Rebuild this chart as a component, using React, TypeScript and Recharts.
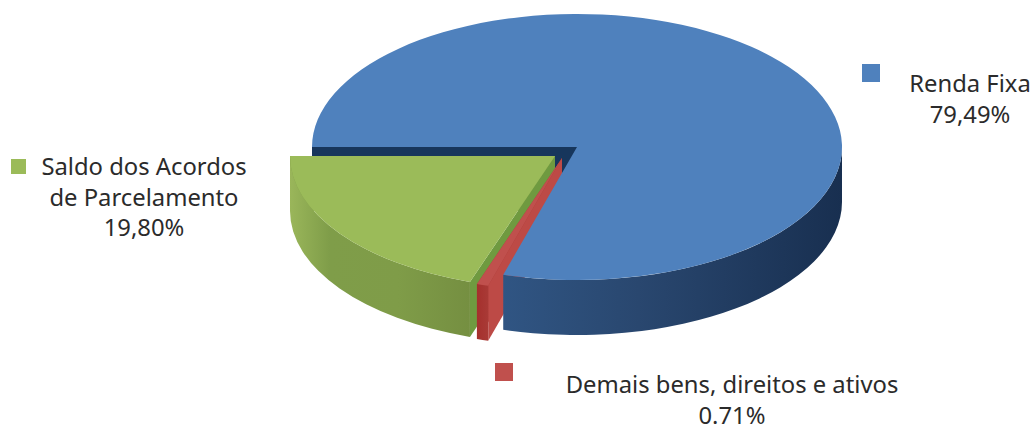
import { PieChart, Pie } from "recharts";

const names = ["Saldo dos Acordos de Parcelamento", "Demais bens, direitos e ativos", "Renda Fixa"];
const shares = [19.8, 0.71, 79.49];
const colors = ["#9BBB59", "#C0504D", "#4F81BD"];
const percentLabels = ["19,80%", "0.71%", "79,49%"];

const labelLines = [
  ["Saldo dos Acordos", "de Parcelamento", "19,80%"],
  ["Demais bens, direitos e ativos", "0.71%"],
  ["Renda Fixa", "79,49%"],
];
// legend box + text block for each slice
const labelBoxes = [
  { sx: 11, sy: 159, ss: 15, tx: 144, ty: 175 },
  { sx: 495, sy: 363, ss: 18, tx: 732, ty: 393 },
  { sx: 862, sy: 64, ss: 18, tx: 970, ty: 92 },
];

const chartData = names.map((name, i) => ({ name, value: shares[i], fill: colors[i], percent: percentLabels[i] }));

const SQUASH = 133 / 265;
const DEPTH = 55;
const explode = [
  { x: -22, y: 9 },
  { x: -15, y: 11 },
  { x: 0, y: 0 },
];
const wallColors = ["#7f9c48", "#a83a36", "#2a4a73"];
const cutColors = ["#6f9a40", "#bd4a46", "#17365c"];

function point(cx: number, cy: number, rx: number, angle: number) {
  const rad = (angle * Math.PI) / 180;
  return { x: cx + rx * Math.cos(rad), y: cy - rx * SQUASH * Math.sin(rad) };
}

function arcPath(cx: number, cy: number, rx: number, a: number, b: number) {
  const p = point(cx, cy, rx, b);
  const large = b - a > 180 ? 1 : 0;
  return `A ${rx} ${rx * SQUASH} 0 ${large} 0 ${p.x} ${p.y}`;
}

function cutWall(cx: number, cy: number, rx: number, angle: number) {
  const p = point(cx, cy, rx, angle);
  return `M ${cx} ${cy} L ${p.x} ${p.y} L ${p.x} ${p.y + DEPTH} L ${cx} ${cy + DEPTH} Z`;
}

function Slice3D(props: any) {
  const { cx, cy, outerRadius: rx, startAngle, endAngle, fill, index } = props;
  const ox = cx + explode[index].x;
  const oy = cy + explode[index].y;
  const start = point(ox, oy, rx, startAngle);

  // only the part of the rim between 180 and 360 degrees faces the viewer
  const a = Math.max(startAngle, 180);
  const b = Math.min(endAngle, 360);
  const pa = point(ox, oy, rx, a);
  const pb = point(ox, oy, rx, b);
  const rim =
    `M ${pa.x} ${pa.y} ${arcPath(ox, oy, rx, a, b)} L ${pb.x} ${pb.y + DEPTH} ` +
    `${`A ${rx} ${rx * SQUASH} 0 0 1 ${pa.x} ${pa.y + DEPTH}`} Z`;

  return (
    <g>
      <defs>
        <linearGradient id="rim0" x1="0" x2="1" y1="0" y2="0">
          <stop offset="0" stopColor="#9ab65a" />
          <stop offset="0.22" stopColor="#7f9d49" />
          <stop offset="0.6" stopColor="#7f9c48" />
          <stop offset="1" stopColor="#758f41" />
        </linearGradient>
        <linearGradient id="rim1" x1="0" x2="1" y1="0" y2="0">
          <stop offset="0" stopColor="#a5302d" />
          <stop offset="1" stopColor="#a93a36" />
        </linearGradient>
        <linearGradient id="rim2" x1="0" x2="1" y1="0" y2="0">
          <stop offset="0" stopColor="#305583" />
          <stop offset="0.4" stopColor="#29476f" />
          <stop offset="1" stopColor="#182f50" />
        </linearGradient>
      </defs>
      {index !== 2 && <path d={cutWall(ox, oy, rx, startAngle)} fill={wallColors[index]} />}
      {index !== 2 && <path d={cutWall(ox, oy, rx, endAngle)} fill={cutColors[index]} />}
      <path d={rim} fill={`url(#rim${index})`} />
      <path
        d={`M ${ox} ${oy} L ${start.x} ${start.y} ${arcPath(ox, oy, rx, startAngle, endAngle)} Z`}
        fill={fill}
      />
    </g>
  );
}

// drawn first: the dark cut face of the big slice, seen behind the pulled out ones
function BackWall(props: any) {
  const { cx, cy, outerRadius: rx, index } = props;
  if (index !== 2) return <g />;
  return <path d={cutWall(cx, cy, rx, 180)} fill={cutColors[2]} />;
}

function renderLabel(props: any) {
  const { index } = props;
  const box = labelBoxes[index];
  return (
    <g key={index}>
      <rect x={box.sx} y={box.sy} width={box.ss} height={box.ss} fill={colors[index]} />
      {labelLines[index].map((line, i) => (
        <text
          key={line}
          x={box.tx}
          y={box.ty + i * 30.5}
          textAnchor="middle"
          fontFamily="'Noto Sans', sans-serif"
          fontSize={23.8}
          fill="#2b2b2b"
        >
          {line}
        </text>
      ))}
    </g>
  );
}

export default function App() {
  return (
    <div style={{ position: "absolute", left: 0, top: 0, width: 1033, height: 425, background: "#fff", overflow: "hidden" }}>
      <PieChart width={1033} height={425} margin={{ top: 0, right: 0, bottom: 0, left: 0 }}>
        <Pie
          data={chartData}
          dataKey="value"
          nameKey="name"
          cx={577}
          cy={147}
          innerRadius={0}
          outerRadius={265}
          startAngle={180}
          endAngle={540}
          stroke="none"
          shape={BackWall}
          isAnimationActive={false}
        />
        <Pie
          data={chartData}
          dataKey="value"
          nameKey="name"
          cx={577}
          cy={147}
          innerRadius={0}
          outerRadius={265}
          startAngle={180}
          endAngle={540}
          stroke="none"
          shape={Slice3D}
          label={renderLabel}
          labelLine={false}
          isAnimationActive={false}
        />
      </PieChart>
    </div>
  );
}
